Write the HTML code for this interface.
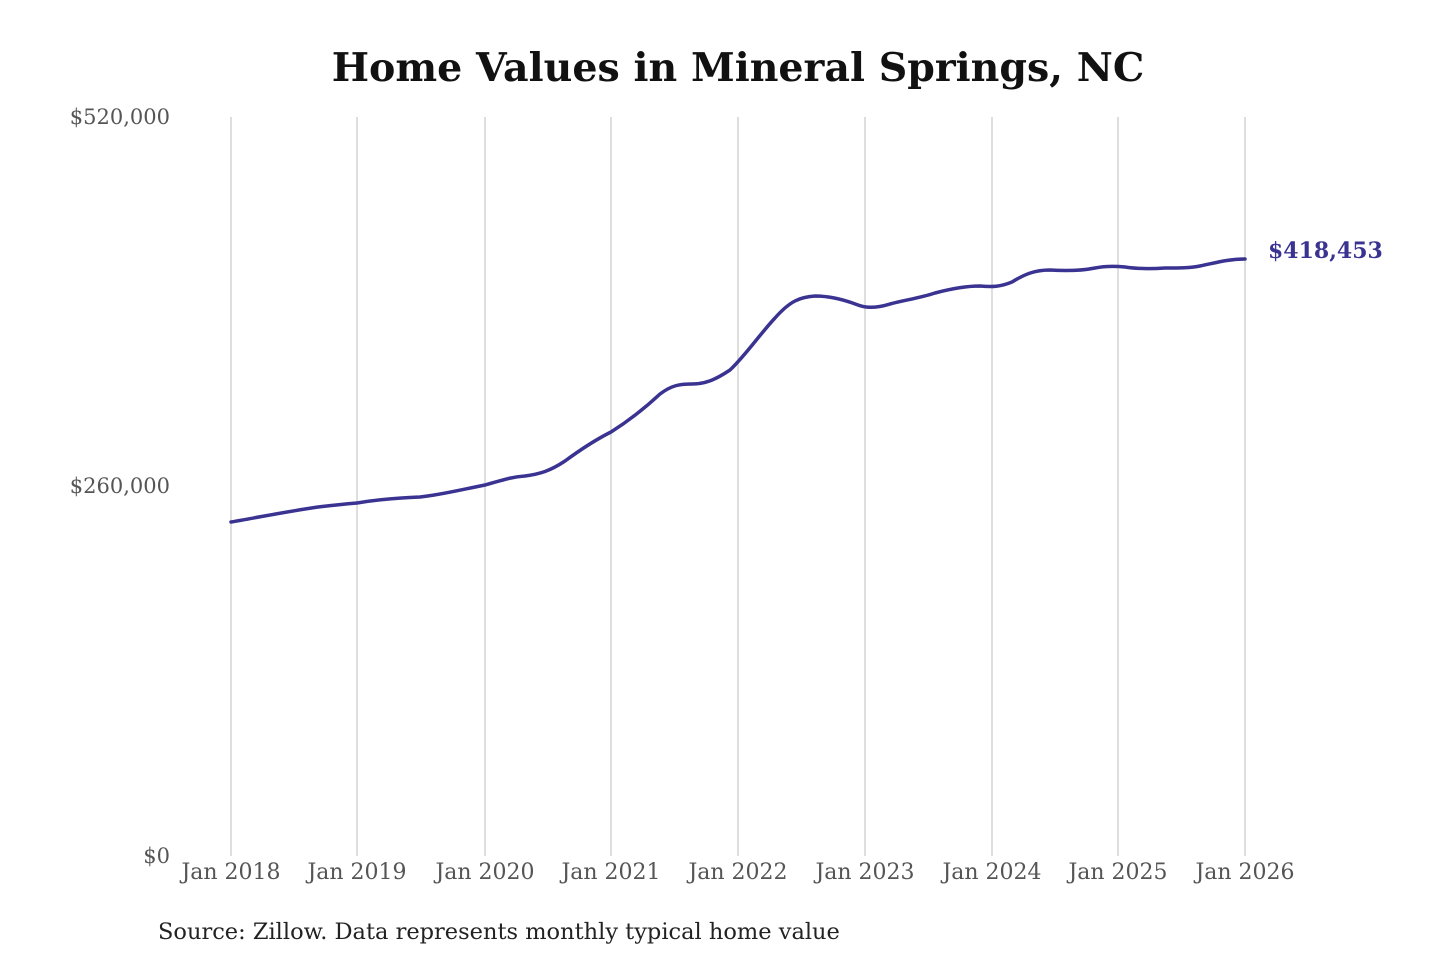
<!DOCTYPE html>
<html><head><meta charset="utf-8"><style>
html,body{margin:0;padding:0;background:#fff;width:1440px;height:960px;overflow:hidden}
svg text{font-family:"DejaVu Serif","Liberation Serif",serif}
</style></head><body>
<svg width="1440" height="960" viewBox="0 0 1440 960" xmlns="http://www.w3.org/2000/svg">
<text x="738" y="81" text-anchor="middle" font-size="39.5" font-weight="bold" fill="#111">Home Values in Mineral Springs, NC</text>
<g stroke="#c8c8c8" stroke-width="1.2">
<line x1="231" y1="117" x2="231" y2="856"/><line x1="357" y1="117" x2="357" y2="856"/>
<line x1="485" y1="117" x2="485" y2="856"/><line x1="611" y1="117" x2="611" y2="856"/>
<line x1="738" y1="117" x2="738" y2="856"/><line x1="865" y1="117" x2="865" y2="856"/>
<line x1="992" y1="117" x2="992" y2="856"/><line x1="1118" y1="117" x2="1118" y2="856"/>
<line x1="1245" y1="117" x2="1245" y2="856"/>
</g>
<g font-size="21" fill="#555" text-anchor="end">
<text x="170" y="124">$520,000</text>
<text x="170" y="493">$260,000</text>
<text x="170" y="863">$0</text>
</g>
<g font-size="22" fill="#555" text-anchor="middle">
<text x="231" y="879">Jan 2018</text><text x="357" y="879">Jan 2019</text>
<text x="485" y="879">Jan 2020</text><text x="611" y="879">Jan 2021</text>
<text x="738" y="879">Jan 2022</text><text x="865" y="879">Jan 2023</text>
<text x="992" y="879">Jan 2024</text><text x="1118" y="879">Jan 2025</text>
<text x="1245" y="879">Jan 2026</text>
</g>
<path fill="none" stroke="#3a3391" stroke-width="3.5" stroke-linejoin="round" stroke-linecap="round"
d="M231,522 C260,517 290,511 318,507 C335,505 345,504 357,503 C375,500 395,498 420,497 C440,495 460,490 485,485 C500,481 510,477 525,476 C540,474 550,471 565,461 C580,450 595,440 611,432 C630,420 645,408 660,394 C672,385 680,384 692,384 C705,384 715,380 730,370 C745,356 760,334 775,318 C790,301 800,297 815,296 C830,296 845,300 858,305 C868,309 880,307 890,304 C905,300 920,298 935,293 C950,289 965,286 980,286 C992,287 1000,287 1012,282 C1025,274 1035,270 1050,270 C1065,271 1080,271 1095,268 C1105,266 1115,266 1125,267 C1138,269 1150,269 1165,268 C1180,268 1190,268 1200,266 C1215,263 1228,259 1245,259"/>
<text x="1268" y="258" font-size="22" font-weight="bold" fill="#3a3391">$418,453</text>
<text x="158" y="939" font-size="22.5" fill="#222">Source: Zillow. Data represents monthly typical home value</text>
</svg>
</body></html>
